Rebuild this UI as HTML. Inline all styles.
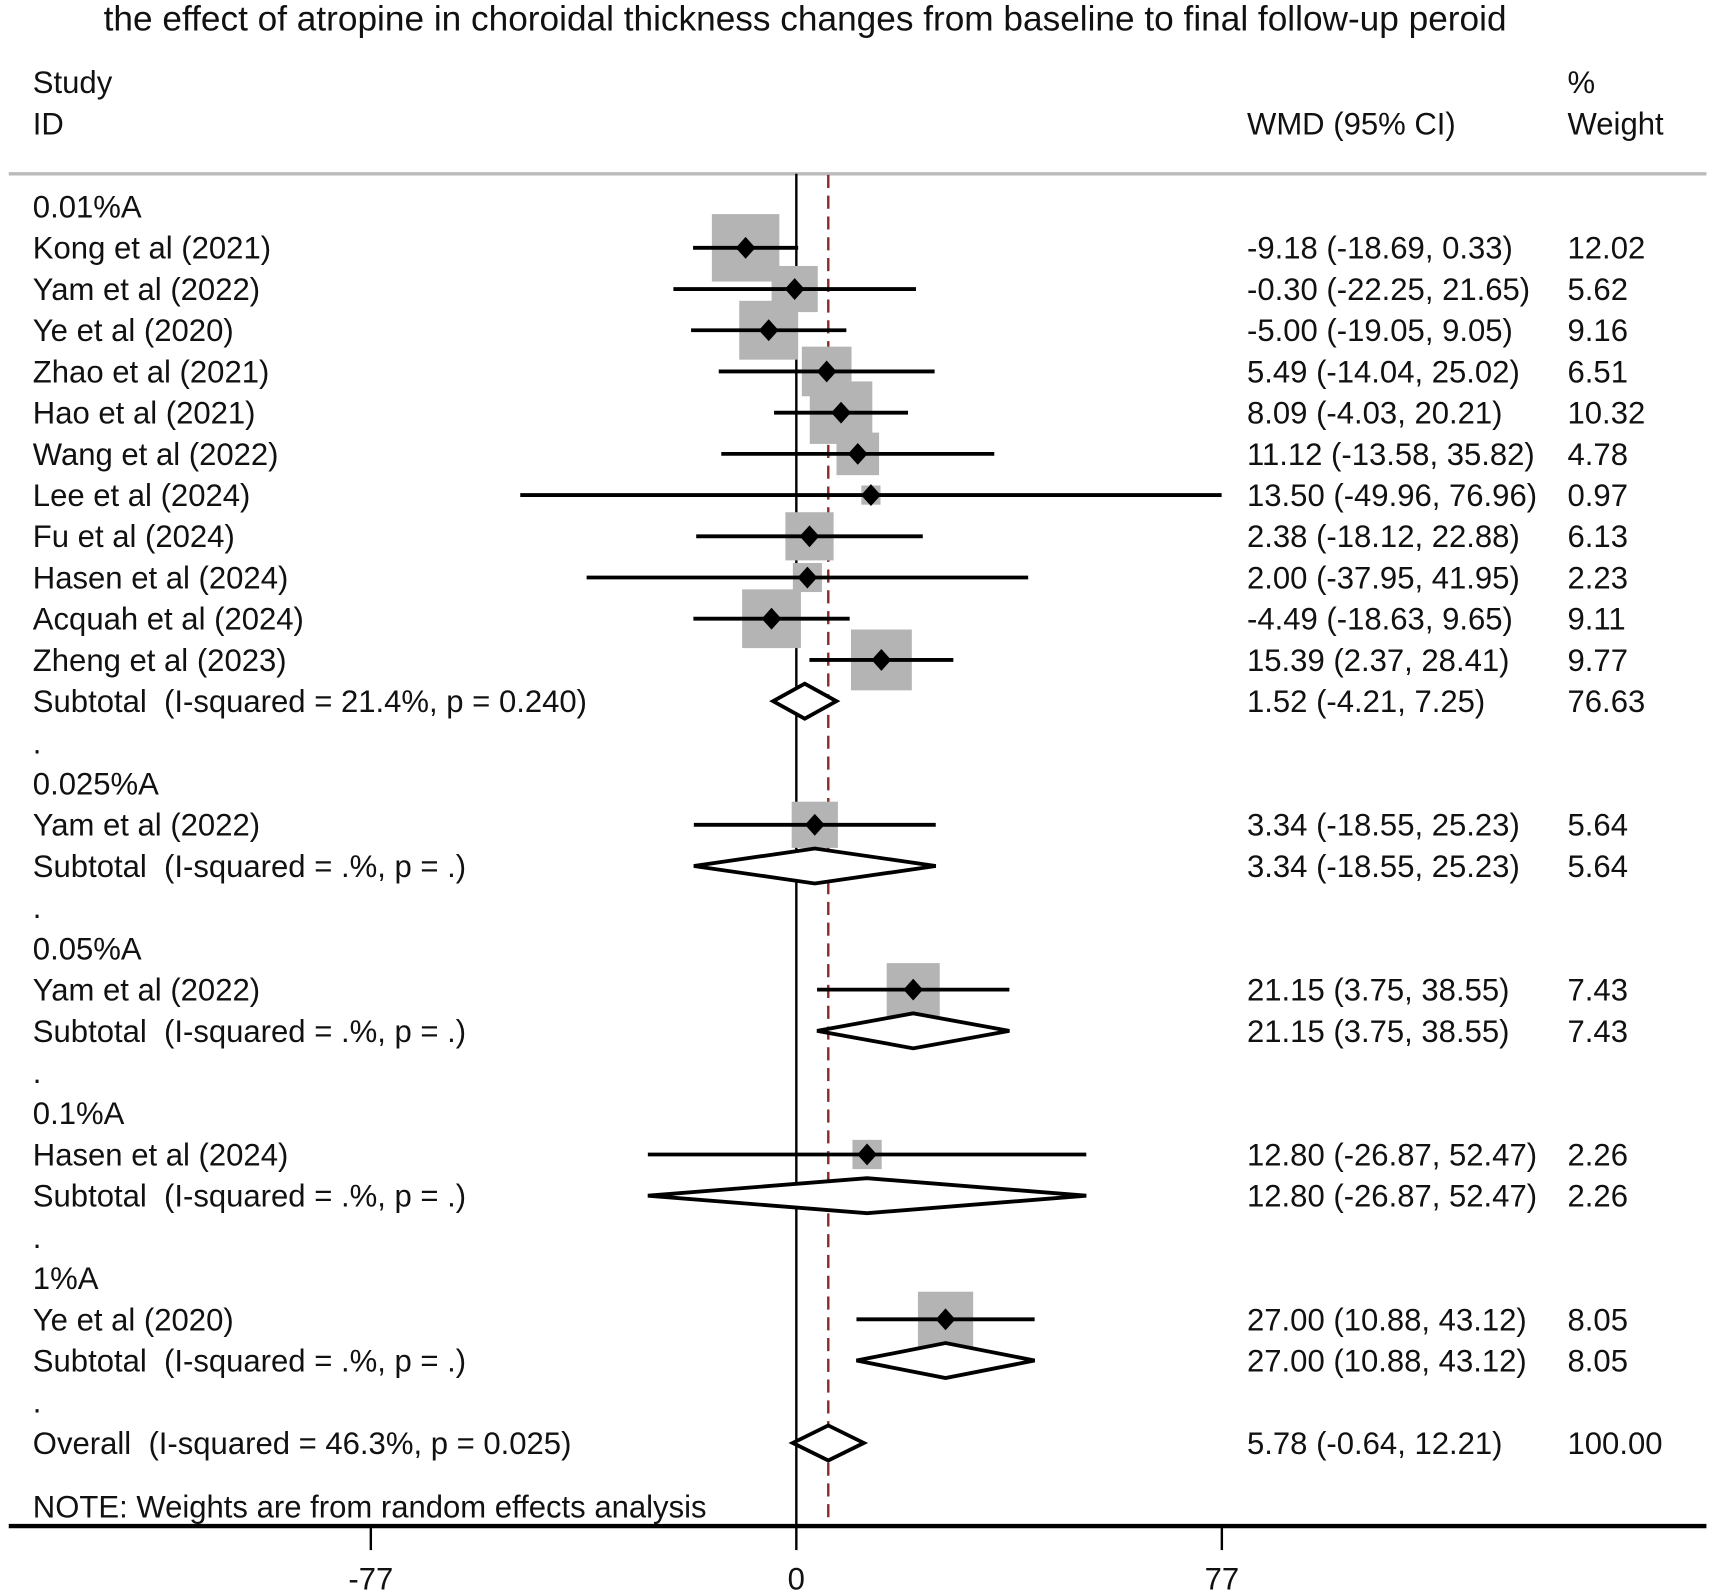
<!DOCTYPE html>
<html><head><meta charset="utf-8"><style>
html,body{margin:0;padding:0;background:#fff}
svg{display:block}
text{font-family:"Liberation Sans",Arial,sans-serif;font-size:28.4px;fill:#111;white-space:pre}
</style></head><body>
<svg id="chart" width="1713" height="1596" viewBox="0 0 1566 1460" preserveAspectRatio="none" xmlns="http://www.w3.org/2000/svg" xml:space="preserve">
</svg>
<script>
// ---- data ----
const rowLabels = ["0.01%A","Kong et al (2021)","Yam et al (2022)","Ye et al (2020)","Zhao et al (2021)","Hao et al (2021)","Wang et al (2022)","Lee et al (2024)","Fu et al (2024)","Hasen et al (2024)","Acquah et al (2024)","Zheng et al (2023)","Subtotal  (I-squared = 21.4%, p = 0.240)",".","0.025%A","Yam et al (2022)","Subtotal  (I-squared = .%, p = .)",".","0.05%A","Yam et al (2022)","Subtotal  (I-squared = .%, p = .)",".","0.1%A","Hasen et al (2024)","Subtotal  (I-squared = .%, p = .)",".","1%A","Ye et al (2020)","Subtotal  (I-squared = .%, p = .)",".","Overall  (I-squared = 46.3%, p = 0.025)"];
const rowTypes = ["h","s","s","s","s","s","s","s","s","s","s","s","d","b","h","s","d","b","h","s","d","b","h","s","d","b","h","s","d","b","d"];
const estimates = [null,-9.18,-0.30,-5.00,5.49,8.09,11.12,13.50,2.38,2.00,-4.49,15.39,1.52,null,null,3.34,3.34,null,null,21.15,21.15,null,null,12.80,12.80,null,null,27.00,27.00,null,5.78];
const lowerCI = [null,-18.69,-22.25,-19.05,-14.04,-4.03,-13.58,-49.96,-18.12,-37.95,-18.63,2.37,-4.21,null,null,-18.55,-18.55,null,null,3.75,3.75,null,null,-26.87,-26.87,null,null,10.88,10.88,null,-0.64];
const upperCI = [null,0.33,21.65,9.05,25.02,20.21,35.82,76.96,22.88,41.95,9.65,28.41,7.25,null,null,25.23,25.23,null,null,38.55,38.55,null,null,52.47,52.47,null,null,43.12,43.12,null,12.21];
const weights = [null,12.02,5.62,9.16,6.51,10.32,4.78,0.97,6.13,2.23,9.11,9.77,76.63,null,null,5.64,5.64,null,null,7.43,7.43,null,null,2.26,2.26,null,null,8.05,8.05,null,100.00];
const overallEstimate = 5.78;
const tickValues = [-77,0,77];
const tickLabels = ["-77","0","77"];

// ---- scales ----
const NS="http://www.w3.org/2000/svg";
const svg=document.getElementById('chart');
const xScale=v=>728+(v/77)*389;
const rowY=i=>189+i*37.7;
function el(tag,attrs,parent){const e=document.createElementNS(NS,tag);for(const k in attrs)e.setAttribute(k,attrs[k]);(parent||svg).appendChild(e);return e;}
function txt(x,y,s,anchor){const t=el('text',{x:x,y:y+10,'text-anchor':anchor||'start'});t.textContent=s;return t;}
const f2=v=>v.toFixed(2);

let t;
t=txt(736,18,"the effect of atropine in choroidal thickness changes from baseline to final follow-up peroid","middle");
t.style.fontSize='32.2px';


t=txt(30,75,"Study");
t=txt(30,113,"ID");
t=txt(1140,113,"WMD (95% CI)");
t=txt(1433,75,"%");
t=txt(1433,113,"Weight");

let l=el('line',{x1:8,x2:1560,y1:159,y2:159,stroke:'#bbb','stroke-width':3});



l=el('line',{x1:xScale(0),x2:xScale(0),y1:159,y2:1396,stroke:'#000','stroke-width':2.2});


l=el('line',{x1:xScale(overallEstimate),x2:xScale(overallEstimate),y1:160,y2:1396,stroke:'#8b2a2a','stroke-width':2.2,'stroke-dasharray':'12 7'});



rowTypes.forEach((ty,i)=>{
  if(ty!=='s')return;
  const s=17.8*Math.sqrt(weights[i]);const y=rowY(i);
  const r=el('rect',{x:xScale(estimates[i])-s/2,y:y-s/2,width:s,height:s,fill:'#b4b4b4'});
  
  
});
rowTypes.forEach((ty,i)=>{
  const y=rowY(i);
  const lab=txt(30,y,rowLabels[i]);
  
  
  if(ty==='s'){
    const ci=el('line',{x1:xScale(lowerCI[i]),x2:xScale(upperCI[i]),y1:y,y2:y,stroke:'#000','stroke-width':3.5});
    
    
    const cx=xScale(estimates[i]);
    const m=el('polygon',{points:`${cx-9},${y} ${cx},${y-10} ${cx+9},${y} ${cx},${y+10}`,fill:'#000'});
    
    
  }
  if(ty==='d'){
    const a=xScale(lowerCI[i]),b=xScale(upperCI[i]),c=xScale(estimates[i]);
    const d=el('polygon',{points:`${a},${y} ${c},${y-16} ${b},${y} ${c},${y+16}`,fill:'#fff',stroke:'#000','stroke-width':3.5});
    
    
  }
  if(ty==='s'||ty==='d'){
    const w=txt(1140,y,`${f2(estimates[i])} (${f2(lowerCI[i])}, ${f2(upperCI[i])})`);
    
    
    const p=txt(1433,y,f2(weights[i]));
    
    
  }
});

t=txt(30,1378,"NOTE: Weights are from random effects analysis");



l=el('line',{x1:8,x2:1560,y1:1396,y2:1396,stroke:'#000','stroke-width':4});


tickValues.forEach((v,i)=>{
  const tk=el('line',{x1:xScale(v),x2:xScale(v),y1:1396,y2:1418,stroke:'#000','stroke-width':2.2});
  
  
  const tl=txt(xScale(v),1444,tickLabels[i],'middle');
  
  
});
</script>
</body></html>
